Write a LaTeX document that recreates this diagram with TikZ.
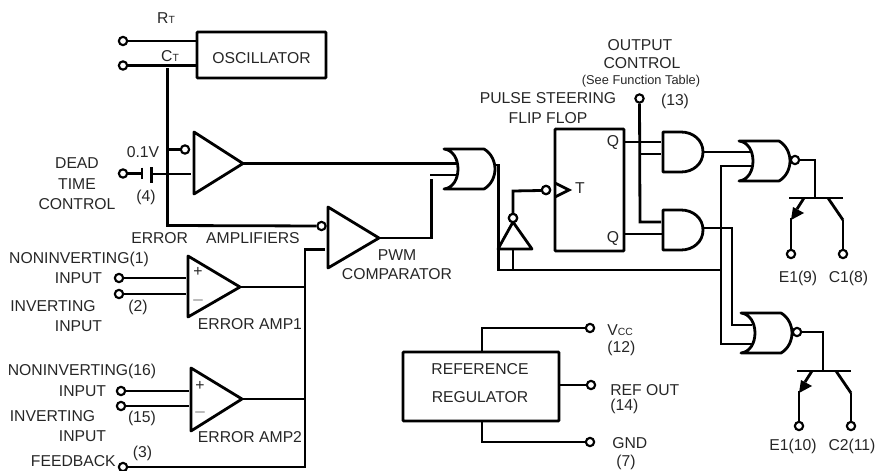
\documentclass[tikz,border=0pt]{standalone}
\usepackage{fontspec}
\setmainfont{Liberation Sans}
\newcommand{\lbl}{\fontsize{11.8pt}{13pt}\selectfont}
\newcommand{\sml}{\fontsize{7.8pt}{9pt}\selectfont}
\tikzset{
  wire/.style={line width=2.1pt,line cap=butt,line join=miter},
  thinwire/.style={line width=1.4pt},
  term/.style={circle,draw,line width=1.6pt,fill=white,inner sep=0pt,minimum size=6.2pt},
  blockbox/.style={draw,line width=2.1pt,rounded corners=0.6pt,inner sep=0pt,fill=white},
  txt/.style={inner sep=0pt,font=\lbl,text=black!85},
  gateline/.style={line width=2.1pt,line join=round,fill=white},
  orgate/.pic={
    \draw[gateline] (0,0) .. controls (9,1) and (14,10) .. (14,20) .. controls (14,30) and (9,39) .. (0,40)
      -- (40,40) .. controls (47,36) and (51,28) .. (51,20) .. controls (51,12) and (47,4) .. (40,0) -- cycle;
  },
  andgate/.pic={
    \draw[gateline] (0,0) -- (18,0) .. controls (30,0) and (40,8) .. (40,20) .. controls (40,32) and (30,40) .. (18,40) -- (0,40) -- cycle;
  },
  transistor/.pic={
    \draw[wire] (0,0) -- (54,0);
    \draw[wire] (15,0) -- (8,11);
    \fill (2,22) -- (4,9) -- (15,15) -- cycle;
    \draw[wire] (39,0) -- (54,22) coordinate (-c);
    \draw[wire] (2,20) -- (2,22) coordinate (-e);
    \coordinate (-b) at (26,0);
  },
}
\begin{document}
\begin{tikzpicture}[x=0.75pt,y=-0.75pt]
\useasboundingbox (0,0) rectangle (876,471);
\clip (0,0) rectangle (876,471);

% ---- blocks
\node[blockbox,minimum width=96.75pt,minimum height=34.5pt] (osc) at (261.5,55) {};
\node[blockbox,minimum width=117pt,minimum height=51.75pt] (ref) at (481,386.5) {};
\node[blockbox,minimum width=51.75pt,minimum height=91.5pt] (ff) at (589.5,190) {};

% ---- terminals
\node[term] (rt) at (123,41) {};
\node[term] (ct) at (123,65.5) {};
\node[term] (dtc) at (123,173.5) {};
\node[term] (amp0in) at (185,149.5) {};
\node[term] (pwmin) at (321.5,226) {};
\node[term] (nin1) at (119,278) {};
\node[term] (inv1) at (119,294) {};
\node[term] (nin2) at (121,391) {};
\node[term] (inv2) at (121,406) {};
\node[term] (fb) at (123,467) {};
\node[term] (octl) at (639.5,98.5) {};
\node[term] (tin) at (546,190) {};
\node[term] (invout) at (513,218) {};
\node[term] (vcc) at (590,328) {};
\node[term] (refout) at (591,385) {};
\node[term] (gnd) at (590,442) {};

% ---- junction points
\coordinate (ctj) at (167.5,65.5);
\coordinate (ctd) at (167.5,68);
\coordinate (ctc) at (167.5,225.5);
\coordinate (tri0a) at (194,132);
\coordinate (tri0b) at (194,194);
\coordinate (tri0c) at (243,163.5);
\coordinate (tri1a) at (188,256);
\coordinate (tri1b) at (188,317);
\coordinate (tri1c) at (240,287);
\coordinate (tri2a) at (191,368);
\coordinate (tri2b) at (191,431);
\coordinate (tri2c) at (242,399);
\coordinate (triPa) at (328,207);
\coordinate (triPb) at (328,268);
\coordinate (triPc) at (379,238);
\coordinate (bus) at (305,249.5);
\coordinate (or1a) at (456,163.5);
\coordinate (or1b) at (456,175);
\coordinate (or1bs) at (430,175);
\coordinate (pwmup) at (431.5,179);
\coordinate (or1out) at (495,165);
\coordinate (rail) at (498.5,270);
\coordinate (railj) at (721,270);
\coordinate (invbase) at (513,249);
\coordinate (invl) at (498,249);
\coordinate (invr) at (532,249);
\coordinate (inva) at (513,222);
\coordinate (and1a) at (661,142);
\coordinate (and1b) at (661,154);
\coordinate (and2a) at (661,222);
\coordinate (and2b) at (663,234);
\coordinate (and1o) at (703,152);
\coordinate (and2o) at (703,228);
\coordinate (nor1a) at (751,152);
\coordinate (nor1b) at (751,166);
\coordinate (nor2a) at (752,325);
\coordinate (nor2b) at (752,344);
\coordinate (octj) at (640,154);
\coordinate (octb) at (640,222);

% ---- wires behind the gates
\draw[wire] (rt) -- (osc.west |- rt);
\draw[wire] (ct) -- (osc.west |- ct);
\draw[wire] (ctd) -- (ctc) -- (pwmin);
\draw[wire] (ctj |- amp0in) -- (amp0in);
\draw[wire] (dtc) -- (141,173.5);
\draw[thinwire] (142,167.5) -- (142,179);
\draw[line width=2.8pt] (151.5,167) -- (151.5,183);
\draw[wire] (151.5,174) -- (191,174);
\draw[wire] (tri0c) -- (or1a);
\draw[wire] (triPc) -| (pwmup);
\draw[wire] (or1bs) -- (or1b);
\draw[wire] (nin1) -- (186,278);
\draw[wire] (inv1) -- (186,294);
\draw[wire] (nin2) -- (189,391);
\draw[wire] (inv2) -- (189,406);
\draw[wire] (fb) -- (fb -| bus) -- (bus) -- (325,249.5);
\draw[wire] (tri1c) -- (tri1c -| bus);
\draw[wire] (tri2c) -- (tri2c -| bus);
\draw[wire] (or1out) -- (or1out -| rail) -- (rail) -- (railj);
\draw[wire] (invbase) -- (invbase |- rail);
\draw[wire] (invout) -- (513,191) -- (513,190.5 -| tin.west) -- (tin);
\draw[wire] (ff.east |- and1a) -- (and1a);
\draw[wire] (ff.east |- and2b) -- (and2b);
\draw[wire] (octl) -- (octb) -- (and2a);
\draw[wire] (octj) -- (and1b);
\draw[wire] (and1o) -- (nor1a);
\draw[wire] (nor1b) -- (721,166) -- (721,344) -- (nor2b);
\draw[wire] (and2o) -- (732,228) -- (732,325) -- (nor2a);
\draw[wire] (ref.east |- refout) -- (refout);
\draw[wire] (482,352) -- (482,328) -- (vcc);
\draw[wire] (482,421) -- (482,442) -- (gnd);

% ---- triangles
\draw[gateline] (tri0a) -- (tri0c) -- (tri0b) -- cycle;
\draw[gateline] (tri1a) -- (tri1c) -- (tri1b) -- cycle;
\draw[gateline] (tri2a) -- (tri2c) -- (tri2b) -- cycle;
\draw[gateline] (triPa) -- (triPc) -- (triPb) -- cycle;
\draw[gateline] (inva) -- (invr) -- (invl) -- cycle;
\draw[gateline,fill=none,line join=miter] (555,183) -- (569,190) -- (555,197);
\node[term] at (invout) {};
\node[term] at (tin) {};

% ---- logic gates
\pic at (444,149) {orgate};
\pic at (739,141) {orgate};
\pic at (741,313) {orgate};
\pic at (663,132) {andgate};
\pic at (663,210) {andgate};

% ---- output stages
\node[term] (nor1o) at (795,160) {};
\node[term] (nor2o) at (797,332) {};
\pic (ta) at (789,198) {transistor};
\pic (tb) at (797,371) {transistor};
\node[term] (e1) at (791,254) {};
\node[term] (c1) at (843,254) {};
\node[term] (e2) at (799,426) {};
\node[term] (c2) at (851,426) {};
\draw[wire] (nor1o) -- (ta-b |- nor1o) -- (ta-b);
\draw[wire] (nor2o) -- (tb-b |- nor2o) -- (tb-b);
\draw[wire] (ta-e) -- (e1);
\draw[wire] (ta-c) -- (c1);
\draw[wire] (tb-e) -- (e2);
\draw[wire] (tb-c) -- (c2);

% ---- labels
\node[txt] (lrt) at (166,18) {R{\sml T}};
\node[txt] (lct) at (170,56) {C{\sml T}};
\node[txt] (losc) at (261.5,58) {OSCILLATOR};
\node[txt] (l01) at (143,152) {0.1V};
\node[txt] (ldead) at (77,163) {DEAD};
\node[txt] (ltime) at (77,184) {TIME};
\node[txt] (lctl) at (77,204) {CONTROL};
\node[txt] (l4) at (146,197) {(4)};
\node[txt,anchor=west] (lerr) at (131,238) {ERROR\hspace{1.15em}AMPLIFIERS};
\node[txt] (lnin1) at (79,259) {NONINVERTING(1)};
\node[txt] (linp1) at (78.5,278) {INPUT};
\node[txt] (linv1) at (53,306) {INVERTING};
\node[txt] (l2) at (138,307) {(2)};
\node[txt] (linp1b) at (78.5,326) {INPUT};
\node[txt] (lea1) at (250,324) {ERROR AMP1};
\node[txt] (lp) at (198,272) {+};
\node[txt] (lm) at (198,300) {$-$};
\node[txt] (lp2) at (200,386) {+};
\node[txt] (lm2) at (200,412) {$-$};
\node[txt] (lnin2) at (82,371) {NONINVERTING(16)};
\node[txt] (linp2) at (82.5,391) {INPUT};
\node[txt] (linv2) at (52.5,416) {INVERTING};
\node[txt] (l15) at (142,418) {(15)};
\node[txt] (linp2b) at (82.5,436) {INPUT};
\node[txt] (lea2) at (250,437) {ERROR AMP2};
\node[txt] (l3) at (142.5,453) {(3)};
\node[txt,anchor=east] (lfb) at (116,461.5) {FEEDBACK};
\node[txt] (lpwm) at (397,255) {PWM};
\node[txt] (lcmp) at (397,274) {COMPARATOR};
\node[txt] (lpulse) at (548,98) {PULSE STEERING};
\node[txt] (lflip) at (548,118) {FLIP FLOP};
\node[txt] (lout) at (640,45) {OUTPUT};
\node[txt] (lcon) at (642,63) {CONTROL};
\node[txt,font=\fontsize{9.6pt}{10pt}\selectfont] (lsee) at (641,81) {(See Function Table)};
\node[txt] (l13) at (675,101) {(13)};
\node[txt] (lt) at (580,188) {T};
\node[txt] (lq1) at (613,142) {Q};
\node[txt] (lq2) at (613,238) {Q};
\node[txt] (lref) at (480,369) {REFERENCE};
\node[txt] (lreg) at (480,397) {REGULATOR};
\node[txt,anchor=west] (lvcc) at (607,330) {V{\sml CC}};
\node[txt,anchor=west] (l12) at (607,348) {(12)};
\node[txt,anchor=west] (lro) at (610,390) {REF OUT};
\node[txt,anchor=west] (l14) at (610,406) {(14)};
\node[txt,anchor=west] (lgnd) at (612,443) {GND};
\node[txt] (l7) at (626,462) {(7)};
\node[txt] (le19) at (798,278) {E1(9)};
\node[txt] (lc18) at (848.5,278) {C1(8)};
\node[txt] (le110) at (793,446) {E1(10)};
\node[txt] (lc211) at (852,446) {C2(11)};
\end{tikzpicture}
\end{document}
